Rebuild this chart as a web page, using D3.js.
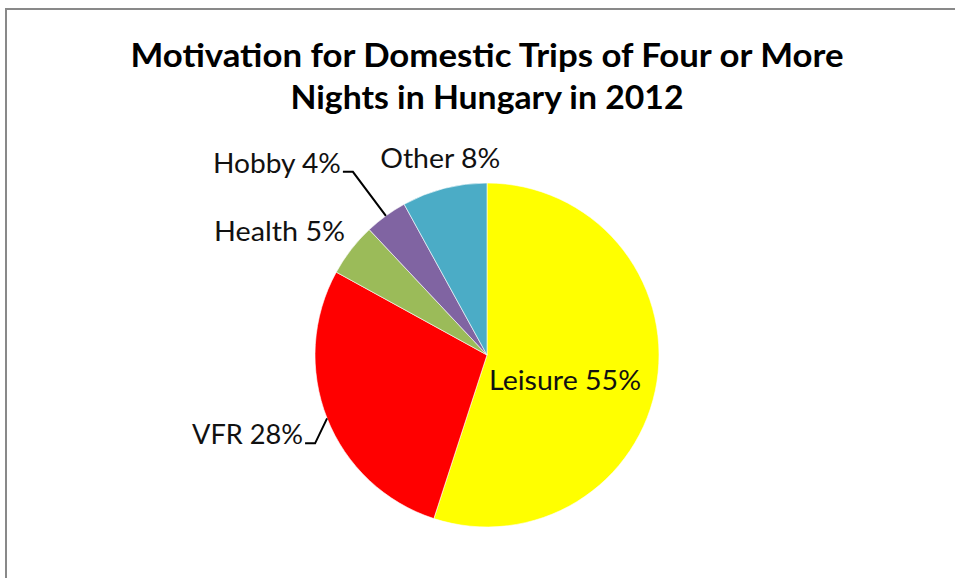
<!DOCTYPE html>
<html lang="en">
<head>
    <meta charset="utf-8">
    <title>Motivation for Domestic Trips</title>
    <style>
        body {
            margin: 0;
            background: #fff;
        }
        svg text {
            font-family: Lato, "Open Sans", sans-serif;
        }
    </style>
</head>
<body>
<svg class="chart"></svg>
<script src="https://d3js.org/d3.v7.min.js"></script>
<script>

  const categories = ["Leisure", "VFR", "Health", "Hobby", "Other"];
  const values = [55, 28, 5, 4, 8];
  const colors = ["#ffff00", "#ff0000", "#9bbb59", "#8064a2", "#4bacc6"];
  const titleLines = ["Motivation for Domestic Trips of Four or More", "Nights in Hungary in 2012"];

  const width = 955;
  const height = 578;
  const cx = 487, cy = 355, radius = 172;

  // label placement relative to the point on the slice edge (layout only)
  // kind: inside / plain / leader
  const labelLayout = [
    {kind: "inside", dx: 78, dy: 35, anchor: "middle", fit: 152},
    {kind: "leader", elbow: [-12, 25], tail: -10, anchor: "end", fit: 111},
    {kind: "plain", dx: -6, dy: -9, anchor: "end", fit: 131},
    {kind: "leader", elbow: [-33, -44], tail: -10, anchor: "end", fit: 128},
    {kind: "plain", dx: -4, dy: -20, anchor: "middle", fit: 120}
  ];

  const svg = d3.select(".chart")
    .attr("width", width)
    .attr("height", height);

  // chart frame, runs off the right and bottom edge like the original
  svg.append("rect")
    .attr("x", 6).attr("y", 9)
    .attr("width", 1200).attr("height", 800)
    .attr("fill", "none")
    .attr("stroke", "#898989")
    .attr("stroke-width", 2);

  // title
  const titleWidths = [713, 393];
  svg.selectAll(".title")
    .data(titleLines)
    .enter()
    .append("text")
    .attr("class", "title")
    .attr("x", cx)
    .attr("y", (d, i) => 67 + i * 42)
    .attr("text-anchor", "middle")
    .attr("font-size", 33)
    .attr("font-weight", "bold")
    .attr("fill", "#000")
    .attr("textLength", (d, i) => titleWidths[i])
    .attr("lengthAdjust", "spacingAndGlyphs")
    .text(d => d);

  const total = d3.sum(values);
  const data = categories.map((c, i) => ({name: c, value: values[i], color: colors[i], layout: labelLayout[i]}));

  const pie = d3.pie()
    .value(d => d.value)
    .sort(null);

  const arc = d3.arc()
    .innerRadius(0)
    .outerRadius(radius);

  const edgeArc = d3.arc()
    .innerRadius(radius)
    .outerRadius(radius);

  const g = svg.append("g")
    .attr("transform", `translate(${cx},${cy})`);

  const arcs = pie(data);

  g.selectAll("path.slice")
    .data(arcs)
    .enter()
    .append("path")
    .attr("class", "slice")
    .attr("d", arc)
    .attr("fill", d => d.data.color)
    .attr("stroke", "#ffffff")
    .attr("stroke-width", 0.6);

  // leader lines
  g.selectAll("path.leader")
    .data(arcs.filter(d => d.data.layout.kind === "leader"))
    .enter()
    .append("path")
    .attr("class", "leader")
    .attr("fill", "none")
    .attr("stroke", "#000")
    .attr("stroke-width", 2)
    .attr("d", d => {
      const p = edgeArc.centroid(d);
      const L = d.data.layout;
      const e = [p[0] + L.elbow[0], p[1] + L.elbow[1]];
      const t = [e[0] + L.tail, e[1]];
      return d3.line()([p, e, t]);
    });

  // labels
  g.selectAll("text.label")
    .data(arcs)
    .enter()
    .append("text")
    .attr("class", "label")
    .attr("font-size", 26)
    .attr("fill", "#111")
    .attr("text-anchor", d => d.data.layout.anchor)
    .attr("textLength", d => d.data.layout.fit)
    .attr("lengthAdjust", "spacingAndGlyphs")
    .attr("transform", d => {
      const L = d.data.layout;
      if (L.kind === "inside") {
        return `translate(${L.dx},${L.dy})`;
      }
      const p = edgeArc.centroid(d);
      if (L.kind === "leader") {
        return `translate(${p[0] + L.elbow[0] + L.tail - 2},${p[1] + L.elbow[1] + 1})`;
      }
      return `translate(${p[0] + L.dx},${p[1] + L.dy})`;
    })
    .text(d => `${d.data.name} ${Math.round(d.data.value / total * 100)}%`);

</script>
</body>
</html>
